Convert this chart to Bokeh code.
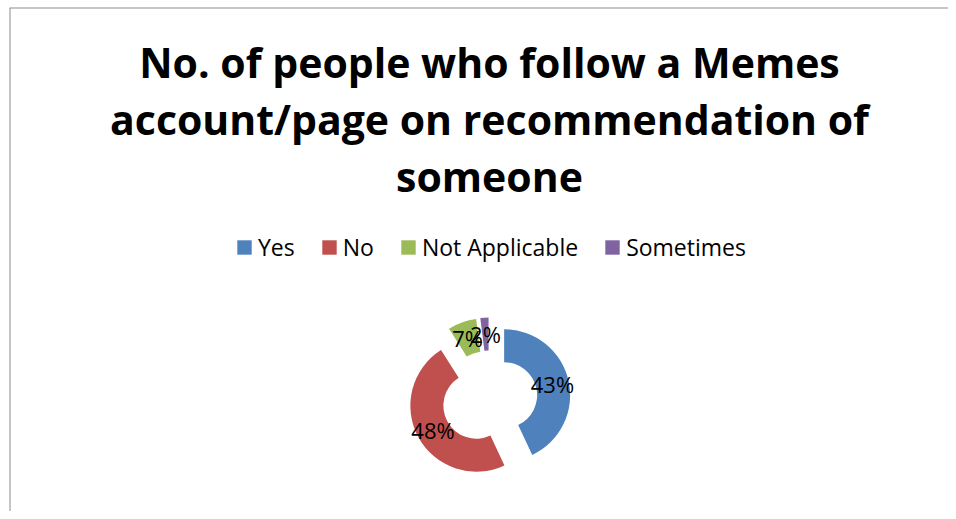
import math
from bokeh.plotting import figure
from bokeh.models import Range1d, ColumnDataSource, Legend, LegendItem, Span
from bokeh.core.properties import value
from bokeh.embed import file_html
from bokeh.resources import INLINE

# ---- data ----
title_lines = ["No. of people who follow a Memes",
               "account/page on recommendation of",
               "someone"]
categories = ["Yes", "No", "Not Applicable", "Sometimes"]
percent = [43, 48, 7, 2]
colors = ["#4F81BD", "#C0504D", "#9BBB59", "#8064A2"]

W, H = 948, 511
ML, MT = 9, 7
FW, FH = W - ML, H - MT
FONT = "Open Sans"

p = figure(width=W, height=H, output_backend="svg", toolbar_location=None,
           x_range=Range1d(0, FW), y_range=Range1d(0, FH),
           x_axis_type=None, y_axis_type=None, min_border=0)
p.min_border_left = ML
p.min_border_top = MT
p.min_border_right = 0
p.min_border_bottom = 0
p.outline_line_color = None
p.background_fill_color = "white"
p.border_fill_color = "white"

# chart-area border (top and left edges visible in the window)
p.add_layout(Span(location=FH, dimension="width", line_color="#8c8c8c", line_width=2))
p.add_layout(Span(location=0, dimension="height", line_color="#8c8c8c", line_width=2))

# title
cx_title = 480
base_y = [450, 393, 336]
p.text(x=[cx_title] * 3, y=base_y, text=title_lines,
       text_font=value(FONT), text_font_style="bold", text_font_size="41px",
       text_align="center", text_baseline="alphabetic", text_color="black")

# donut (exploded)
cx, cy = 480, 113
R, r, d = 66, 33, 15
total = sum(percent)
start = math.pi / 2
xs, ys, sa, ea, lx, ly, labels = [], [], [], [], [], [], []
for v in percent:
    sweep = v / total * 2 * math.pi
    end = start - sweep
    mid = (start + end) / 2
    ox = cx + d * math.cos(mid)
    oy = cy + d * math.sin(mid)
    xs.append(ox); ys.append(oy)
    sa.append(end); ea.append(start)
    lx.append(ox + (R + r) / 2 * math.cos(mid))
    ly.append(oy + (R + r) / 2 * math.sin(mid))
    labels.append(f"{v}%")
    start = end

src = ColumnDataSource(dict(x=xs, y=ys, start=sa, end=ea, color=colors, cat=categories))
wr = p.annular_wedge(x="x", y="y", inner_radius=r, outer_radius=R,
                     start_angle="start", end_angle="end", direction="anticlock",
                     fill_color="color", line_color=None, source=src)

p.text(x=lx, y=ly, text=labels, text_font=value(FONT), text_font_size="22px",
       text_align="center", text_baseline="middle", text_color="black")

legend = Legend(items=[LegendItem(label=c, renderers=[wr], index=i) for i, c in enumerate(categories)],
                orientation="horizontal", location=(226, 248),
                glyph_width=18, glyph_height=18, label_standoff=5, spacing=25,
                padding=0, margin=0, border_line_color=None, background_fill_alpha=0,
                label_text_font=FONT, label_text_font_size="23px", label_text_color="black")
p.add_layout(legend, "center")

open("out.html", "w").write(file_html(p, INLINE))
